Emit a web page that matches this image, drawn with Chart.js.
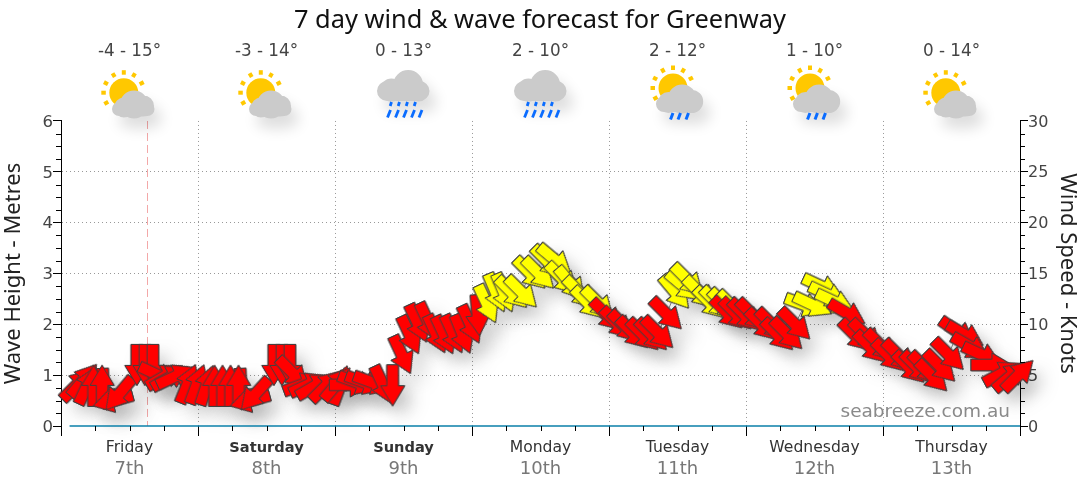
<!DOCTYPE html>
<html><head><meta charset="utf-8">
<style>html,body{margin:0;padding:0;background:#fff}canvas{display:block}</style>
<script src="https://cdn.jsdelivr.net/npm/chart.js@4/dist/chart.umd.min.js"></script>
</head><body><canvas id="c" width="1080" height="490"></canvas>
<script>
const titleText = "7 day wind & wave forecast for Greenway";
const dayNames = ["Friday","Saturday","Sunday","Monday","Tuesday","Wednesday","Thursday"];
const dayDates = ["7th","8th","9th","10th","11th","12th","13th"];
const boldDays = ["Saturday","Sunday"];
const tempLabels = ["-4 - 15°","-3 - 14°","0 - 13°","2 - 10°","2 - 12°","1 - 10°","0 - 14°"];
const weatherIcons = ["sunCloud","sunCloud","rain","rain","sunShower","sunShower","sunCloud"];
const nowHour = 15.0;

const hours = [2.8,3.9,4.6,7.4,5.7,7.2,9.1,10.2,13.3,14.7,16.1,17.0,18.2,19.1,20.1,22.2,23.8,25.5,
 31.5,26.9,28.3,29.7,31.1,33.1,34.0,37.3,38.7,40.1,40.6,42.4,43.4,44.5,46.4,48.9,48.3,50.6,52.0,53.3,54.7,56.4,58.1,
 59.7,61.1,62.5,64.3,65.7,67.1,68.7,70.3,71.7,73.0,
 74.6,76.2,77.6,79.0,80.7,82.2,83.7,85.3,86.5,87.8,89.3,90.9,92.3,94.1,
 95.6,97.4,98.8,100.2,102.0,103.5,104.6,106.1,
 107.6,109.0,109.8,111.9,113.7,114.9,116.3,117.7,
 116.7,118.3,119.8,121.2,122.8,124.6,125.6,127.2,128.6,
 130.3,131.7,133.3,134.4,135.6,
 137.7,139.2,141.0,141.8,143.6,145.0,146.8,148.6,150.0,151.4,152.6,154.0,155.5,
 157.1,158.4,159.3,161.3,163.0,164.9,166.3,167.7];
const waveHeights = [.81,.90,.80,.73,.79,.79,.50,.63,1.2,1.2,1.2,1.0,.98,.96,.98,.83,.82,.80,
 .73,.79,.79,.79,.79,.50,.62,1.2,1.2,1.2,1.04,.82,.82,.79,.79,.80,.83,.81,.85,.85,.85,.81,.80,
 1.40,1.79,2.02,2.05,1.81,1.79,1.81,1.81,2.0,2.18,
 2.40,2.62,2.62,2.62,2.63,3.0,3.0,3.23,3.27,2.9,2.8,2.62,2.42,2.42,
 2.18,2.02,1.95,1.83,1.79,1.79,1.83,2.2,
 2.63,2.75,2.87,2.62,2.42,2.42,2.38,2.34,
 2.22,2.2,2.18,2.18,1.99,1.99,1.79,1.81,2.0,
 2.38,2.38,2.74,2.58,2.44,
 2.22,1.78,1.78,1.55,1.58,1.38,1.38,1.15,1.15,1.14,.98,1.17,1.40,
 1.85,1.79,1.56,1.40,1.2,1.04,.98,1.0];
const directions = [45,40,25,178,0,0,255,220,180,180,180,115,60,60,65,22,20,18,
 178,0,0,0,0,255,222,180,180,180,135,70,65,60,45,20,40,90,110,110,110,155,180,
 155,155,155,155,155,155,155,158,155,175,
 155,157,157,135,135,135,135,135,130,135,140,135,135,135,
 135,135,135,135,135,135,135,135,
 140,130,135,135,135,135,135,135,
 135,135,135,135,135,135,135,135,135,
 110,115,115,115,115,
 120,135,135,135,135,135,135,135,135,135,135,135,135,
 125,120,120,115,90,62,50,45];
const windClass = ["r","r","r","r","r","r","r","r","r","r","r","r","r","r","r","r","r","r",
 "r","r","r","r","r","r","r","r","r","r","r","r","r","r","r","r","r","r","r","r","r","r","r",
 "r","r","r","r","r","r","r","r","r","r",
 "y","y","y","y","y","y","y","y","y","y","y","y","y","y",
 "r","r","r","r","r","r","r","r",
 "y","y","y","y","y","y","y","y",
 "r","r","r","r","r","r","r","r","r",
 "y","y","y","y","y",
 "r","r","r","r","r","r","r","r","r","r","r","r","r",
 "r","r","r","r","r","r","r","r"];
const baselineHours = [1.5,168];
const baselineValues = [0,0];
const leftMinor = [.25,.5,.75,1.25,1.5,1.75,2.25,2.5,2.75,3.25,3.5,3.75,4.25,4.5,4.75,5.25,5.5,5.75];
const xMinor = [6,12,18,30,36,42,54,60,66,78,84,90,102,108,114,126,132,138,150,156,162];
const xTicks = [0,12,24,36,48,60,72,84,96,108,120,132,144,156,168];

function arrowSprite(fill){
  const s=document.createElement('canvas'); s.width=s.height=48;
  const g=s.getContext('2d'); g.translate(24,24);
  const L=20.5,sw=5.8,hw=12,hl=20;
  g.beginPath();
  g.moveTo(0,-L); g.lineTo(hw,-L+hl); g.lineTo(sw,-L+hl); g.lineTo(sw,L);
  g.lineTo(-sw,L); g.lineTo(-sw,-L+hl); g.lineTo(-hw,-L+hl); g.closePath();
  g.fillStyle=fill; g.fill(); g.lineWidth=1; g.strokeStyle='#404040'; g.lineJoin='miter'; g.stroke();
  return s;
}
const sprites={r:arrowSprite('#ff0000'),y:arrowSprite('#ffff00')};
const points=hours.map((h,i)=>({x:h,y:waveHeights[i]}));

function drawIcon(g,kind,cx){
  g.save();
  const shadow=()=>{g.shadowColor='rgba(0,0,0,.13)';g.shadowBlur=14;g.shadowOffsetX=7;g.shadowOffsetY=11;};
  const noShadow=()=>{g.shadowColor='transparent';g.shadowBlur=0;g.shadowOffsetX=0;g.shadowOffsetY=0;};
  if(kind!=='rain'){
    const sx=cx-(kind==='sunShower'?4.5:5.7), sy=kind==='sunShower'?88:92.7;
    g.fillStyle='#ffc800'; g.beginPath(); g.arc(sx,sy,14.5,0,7); g.fill();
    g.strokeStyle='#ffc800'; g.lineWidth=4;
    [-90,-60,-120,-28,-152,180,150].forEach(a=>{
      const t=a*Math.PI/180;
      g.beginPath(); g.moveTo(sx+Math.cos(t)*18,sy+Math.sin(t)*18);
      g.lineTo(sx+Math.cos(t)*22.5,sy+Math.sin(t)*22.5); g.stroke();
    });
  }
  g.fillStyle='#cbcbcb'; shadow();
  if(kind==='sunCloud'){
    g.beginPath(); cloudPath(g,[[cx+4.5,104.5,14],[cx-5.5,107.5,10],[cx+14,106,10.5]],116,cx-17.5,cx+25,14); g.fill();
  }else if(kind==='sunShower'){
    g.beginPath(); cloudPath(g,[[cx+4.7,99,14.5],[cx-9,102.5,10.5],[cx+14.2,101.5,11.5]],112,cx-21.5,cx+23.7,16); g.fill();
  }else{
    g.beginPath(); cloudPath(g,[[cx+4.7,85,15],[cx-12,90,11.5],[cx+15,91,10.5]],101,cx-26.5,cx+26,20); g.fill();
  }
  noShadow();
  g.strokeStyle='#0a6cff'; g.lineCap='butt';
  if(kind==='rain'){
    g.lineWidth=2.8;
    [-13,-5,3,11].forEach(d=>{g.beginPath();g.moveTo(cx+d+1,102);g.lineTo(cx+d-.3,106);g.stroke();});
    [-15,-7,1,9,16.5].forEach(d=>{g.beginPath();g.moveTo(cx+d+2,110);g.lineTo(cx+d-1,117.5);g.stroke();});
  }else if(kind==='sunShower'){
    g.lineWidth=3;
    [-6,1.5,9.5].forEach(d=>{g.beginPath();g.moveTo(cx+d+1.5,113);g.lineTo(cx+d-1,119.5);g.stroke();});
  }
  g.restore();
}
function cloudPath(g,c,bottom,l,r,bh){
  c.forEach(p=>{g.moveTo(p[0]+p[2],p[1]);g.arc(p[0],p[1],p[2],0,Math.PI*2);});
  const h=bh/2;
  g.moveTo(l+h,bottom); g.arcTo(l,bottom,l,bottom-h,h); g.arcTo(l,bottom-bh,l+h,bottom-bh,h);
  g.lineTo(r-h,bottom-bh); g.arcTo(r,bottom-bh,r,bottom-h,h); g.arcTo(r,bottom,r-h,bottom,h); g.closePath();
}

const decor={
  id:'decor',
  beforeDatasetDraw(chart,args){
    const ds=chart.data.datasets[args.index];
    if(ds.castShadow){const g=chart.ctx;g.save();g.shadowColor='rgba(0,0,0,.14)';g.shadowBlur=18;g.shadowOffsetX=11;g.shadowOffsetY=11;}
  },
  afterDatasetDraw(chart,args){
    const ds=chart.data.datasets[args.index];
    if(ds.castShadow){chart.ctx.restore();}
  },
  beforeDatasetsDraw(chart){
    const g=chart.ctx,{x}=chart.scales,{top,bottom}=chart.chartArea;
    g.save(); g.strokeStyle='#f3a8a8'; g.lineWidth=1; g.setLineDash([8,4]);
    const px=Math.round(x.getPixelForValue(nowHour))+.5;
    g.beginPath(); g.moveTo(px,top); g.lineTo(px,bottom); g.stroke(); g.restore();
  },
  afterDraw(chart){
    const g=chart.ctx,{x,y}=chart.scales,{bottom,left,right}=chart.chartArea;
    g.save();
    g.strokeStyle='#000'; g.lineWidth=1;
    leftMinor.forEach(v=>{
      const p=Math.round(y.getPixelForValue(v))+.5;
      g.beginPath(); g.moveTo(left-5,p); g.lineTo(left,p); g.moveTo(right,p); g.lineTo(right+5,p); g.stroke();
    });
    xMinor.forEach(v=>{
      const p=Math.round(x.getPixelForValue(v))+.5;
      g.beginPath(); g.moveTo(p,bottom); g.lineTo(p,bottom+5); g.stroke();
    });
    g.font='18.5px "DejaVu Sans"'; g.fillStyle='#8a8a8a'; g.textAlign='right'; g.textBaseline='alphabetic';
    g.fillText('seabreeze.com.au',1010,417);
    g.font='16.8px "DejaVu Sans"'; g.fillStyle='#444'; g.textAlign='center';
    tempLabels.forEach((t,d)=>g.fillText(t,x.getPixelForValue(12+24*d),56));
    weatherIcons.forEach((k,d)=>drawIcon(g,k,x.getPixelForValue(12+24*d)));
    g.restore();
  }
};

const tv=c=>c.tick?c.tick.value:-1;
const isDay=v=>v>=0&&v%24===0;
new Chart(document.getElementById('c'),{
  type:'line',
  plugins:[decor],
  data:{datasets:[
    {label:'shadow',data:points,castShadow:true,order:3,showLine:false,clip:false,
     pointStyle:c=>sprites[windClass[c.dataIndex]],pointRotation:directions,pointRadius:5,parsing:false,xAxisID:'x',yAxisID:'y'},
    {label:'baseline',data:baselineHours.map((h,i)=>({x:h,y:baselineValues[i]})),order:2,borderColor:'#0a7fa8',borderWidth:1.6,pointRadius:0,clip:false,xAxisID:'x',yAxisID:'y1'},
    {label:'Wave height',data:points,order:1,borderColor:'#777',borderWidth:1,clip:false,
     pointStyle:c=>sprites[windClass[c.dataIndex]],pointRotation:directions,pointRadius:5,parsing:false,xAxisID:'x',yAxisID:'y'}
  ]},
  options:{
    responsive:false,animation:false,devicePixelRatio:1,
    layout:{padding:0},
    plugins:{legend:{display:false},tooltip:{enabled:false},
      title:{display:true,text:titleText,color:'#111',font:{family:'"Noto Sans"',size:25.4,weight:'normal',lineHeight:1.2},padding:{top:6,bottom:84.5}}},
    scales:{
      x:{type:'linear',min:0,max:168,position:'bottom',weight:0,
        afterBuildTicks:s=>{s.ticks=[0,6,12,18,24,30,36,42,48,54,60,66,72,78,84,90,96,102,108,114,120,126,132,138,144,150,156,162,168].map(value=>({value}));},
        afterFit:s=>{s.height=33;},
        border:{display:false,dash:[1,3]},
        grid:{color:c=>{const v=tv(c);return isDay(v)&&v>0&&v<168?'#999':'transparent';},
              tickColor:c=>isDay(tv(c))?'#000':'transparent',tickLength:10,tickBorderDash:[]},
        ticks:{autoSkip:false,maxRotation:0,minRotation:0,padding:3,color:'#333',
          font:c=>{const n=dayNames[Math.floor(Math.max(tv(c),0)/24)];const b=boldDays.includes(n);return {family:'"DejaVu Sans"',size:b?14.6:15.6,weight:b?'bold':'normal'};},
          callback:v=>v%24===12?dayNames[Math.floor(v/24)]:''}},
      x2:{type:'linear',min:0,max:168,position:'bottom',weight:1,
        afterBuildTicks:s=>{s.ticks=xTicks.filter(v=>v%24===12).map(value=>({value}));},
        afterFit:s=>{s.height=31;},
        border:{display:false},grid:{display:false,drawTicks:false},
        ticks:{autoSkip:false,maxRotation:0,padding:0,color:'#777',font:{family:'"DejaVu Sans"',size:18},
          callback:v=>dayDates[Math.floor(v/24)]}},
      y:{type:'linear',min:0,max:6,position:'left',
        afterBuildTicks:s=>{s.ticks=[0,1,2,3,4,5,6].map(value=>({value}));},
        afterFit:s=>{s.width=61;},
        border:{display:true,color:'#000',dash:[1,3]},
        grid:{color:c=>{const v=tv(c);return v>0&&v<6?'#999':'transparent';},tickColor:'#000',tickLength:8,tickBorderDash:[]},
        ticks:{color:'#444',padding:0,labelOffset:1.5,font:{family:'"DejaVu Sans"',size:16.5}},
        title:{display:true,text:'Wave Height - Metres',color:'#222',font:{family:'"Noto Sans"',size:22},padding:{top:1,bottom:0}}},
      y1:{type:'linear',min:0,max:30,position:'right',
        afterBuildTicks:s=>{s.ticks=[0,5,10,15,20,25,30].map(value=>({value}));},
        afterFit:s=>{s.width=60;},
        border:{display:true,color:'#000'},
        grid:{drawOnChartArea:false,tickColor:'#000',tickLength:8},
        ticks:{color:'#444',padding:0,labelOffset:1.5,font:{family:'"DejaVu Sans"',size:16}},
        title:{display:true,text:'Wind Speed - Knots',color:'#222',font:{family:'"Noto Sans"',size:22},padding:{top:0,bottom:1}}}
    }
  }
});
</script></body></html>
